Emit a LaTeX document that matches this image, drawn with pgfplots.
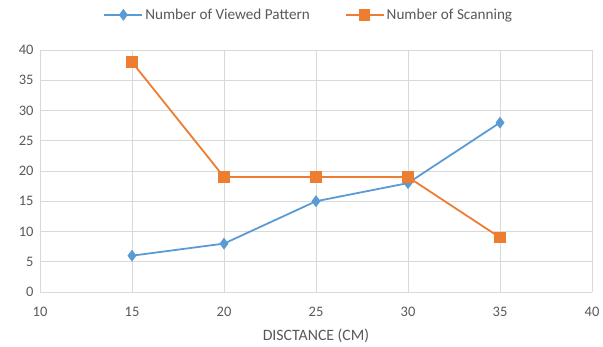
\documentclass[border=0pt]{standalone}
\usepackage{pgfplots}
\pgfplotsset{compat=1.18}
\usepackage{fontspec}
\setmainfont{Carlito}
\definecolor{cblue}{HTML}{5B9BD5}
\definecolor{corange}{HTML}{ED7D31}
\definecolor{cgrid}{HTML}{D9D9D9}
\definecolor{ctext}{HTML}{595959}
\begin{document}
\begin{tikzpicture}
\begin{axis}[
  scale only axis,
  width=552pt, height=242pt,
  xmin=10, xmax=40, ymin=0, ymax=40,
  xtick={10,15,...,40}, ytick={0,5,...,40},
  grid=major,
  major grid style={cgrid, line width=0.7pt},
  axis x line*=bottom,
  axis y line*=left,
  x axis line style={draw=cgrid, line width=0.7pt},
  y axis line style={draw=none},
  tick style={draw=none},
  /pgf/number format/assume math mode=true,
  ticklabel style={font=\fontsize{14.5}{16}\selectfont, text=ctext},
  xticklabel style={yshift=-12pt},
  yticklabel style={xshift=-3pt},
  xlabel={DISCTANCE (CM)},
  xlabel style={font=\fontsize{15.8}{18}\selectfont, text=ctext, yshift=-5pt},
  legend image code/.code={\draw[#1, line width=1.8pt] (0pt,0pt) -- (38pt,0pt); \draw[#1, only marks] plot coordinates {(19pt,0pt)};},
  legend style={at={(0.487,1.145)}, anchor=center, draw=none, font=\fontsize{15.2}{18}\selectfont, text=ctext, legend columns=2, /tikz/every even column/.append style={column sep=33pt}, inner sep=0pt},
  legend cell align=left,
]
\addplot[cblue, line width=1.8pt, mark=diamond*, mark size=4.5pt, mark options={fill=cblue, draw=cblue}] coordinates {(15,6) (20,8) (25,15) (30,18) (35,28)};
\addlegendentry{Number of Viewed Pattern}
\addplot[corange, line width=1.8pt, mark=square*, mark size=4.8pt, mark options={fill=corange, draw=corange}] coordinates {(15,38) (20,19) (25,19) (30,19) (35,9)};
\addlegendentry{Number of Scanning}
\end{axis}
\pgfresetboundingbox
\path[use as bounding box] (-40pt,-55pt) rectangle (563pt,292pt);
\end{tikzpicture}
\end{document}
